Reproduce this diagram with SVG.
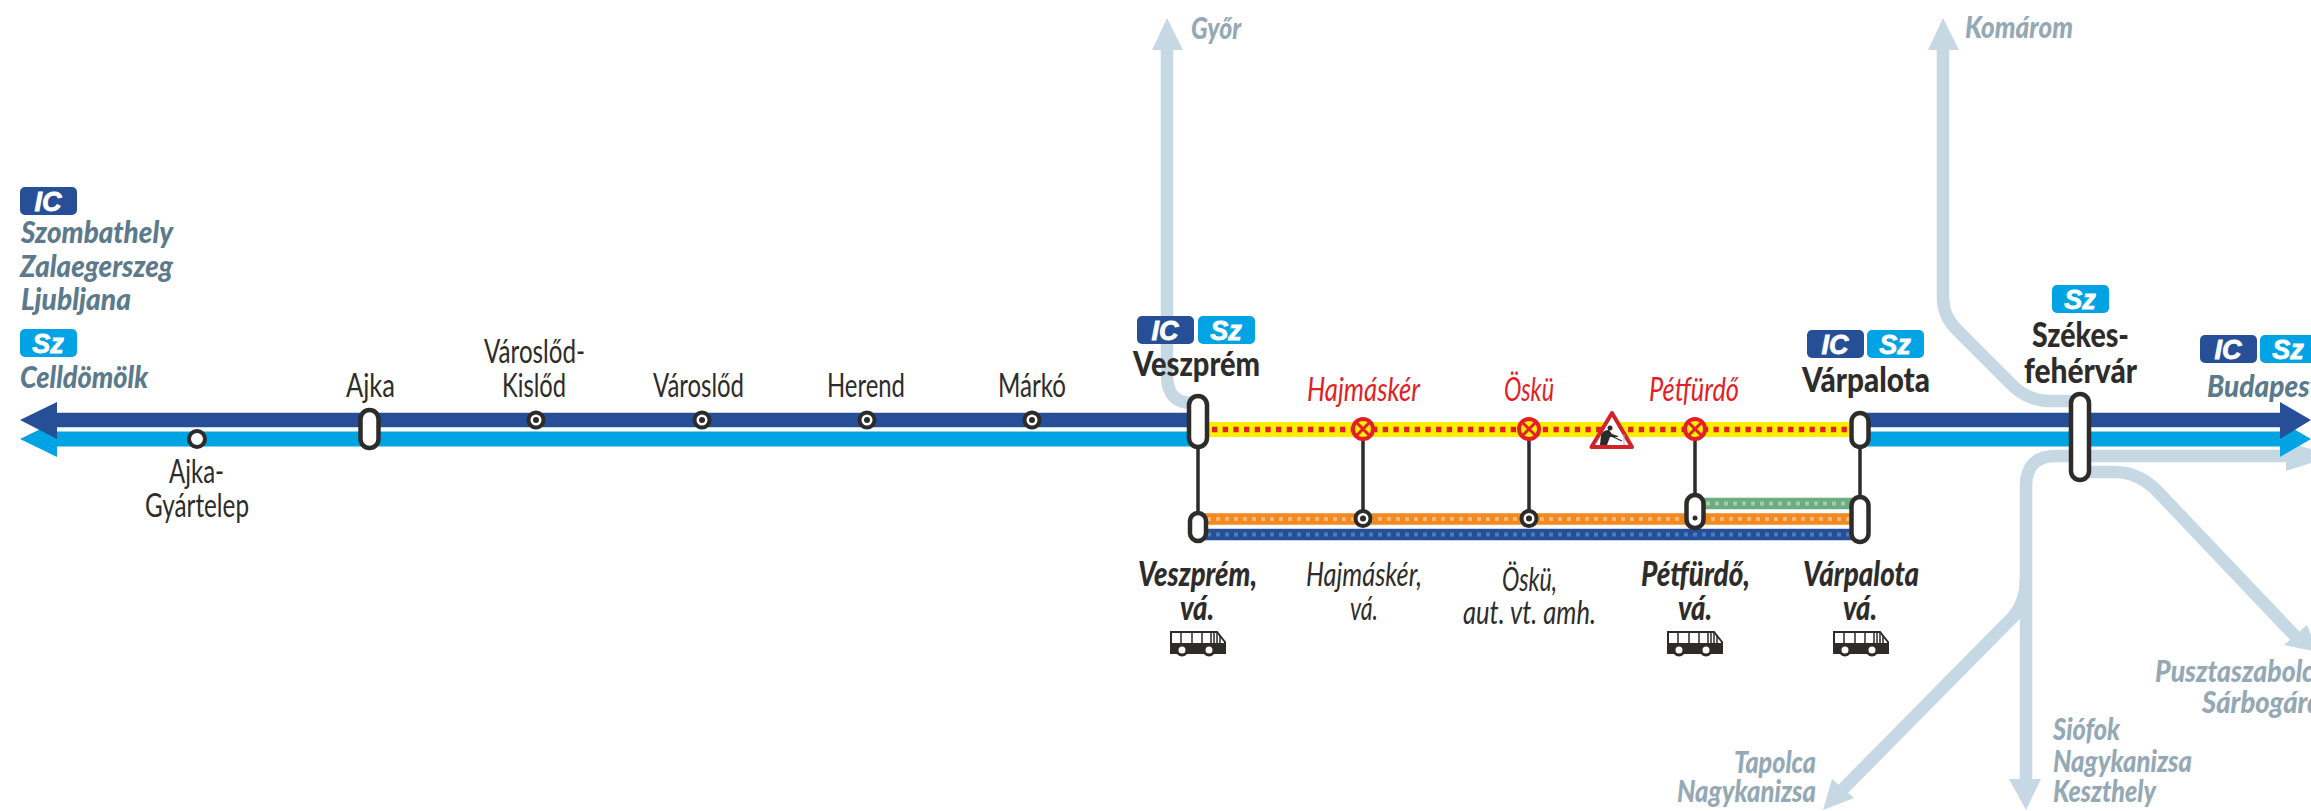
<svg xmlns="http://www.w3.org/2000/svg" width="2311" height="811" viewBox="0 0 2311 811">
<style>
text{font-family:Lato,"Open Sans","Liberation Sans",sans-serif;font-size:33px;fill:#2d2c2b}
.b{font-weight:900;font-size:35px}
.i{font-style:italic}
.r{fill:#e31e24;font-style:italic}
.d{fill:#5b7a8c;font-weight:900;font-style:italic;font-size:31px}
.g{fill:#94a9b5;font-weight:900;font-style:italic;font-size:30px}
.logo{font-family:"Liberation Sans",sans-serif;font-size:27px;font-weight:700;font-style:italic;fill:#fff;stroke:#fff;stroke-width:.8;text-anchor:middle}
.cap{fill:#fff;stroke:#2d2c2b;stroke-width:4.5}
.stop{fill:#fff;stroke:#2d2c2b;stroke-width:4}
.conn{fill:none;stroke:#2d2c2b;stroke-width:3.5}
.pale{fill:none;stroke:#c6d8e3;stroke-width:12.5}
.paleh{fill:#c6d8e3}
</style>
<defs>
<g id="ic"><rect width="57" height="28" rx="5" fill="#274f97"/><text class="logo" x="28" y="24">IC</text></g>
<g id="sz"><rect width="57" height="28" rx="5" fill="#00a3e3"/><text class="logo" x="28" y="24">Sz</text></g>
<g id="bus">
<path d="M1 1H47L55 11V22H1V1Z" fill="#fff" stroke="#2d2c2b" stroke-width="2"/>
<path d="M0 12H56V22H0Z" fill="#2d2c2b"/>
<path d="M11 1V12M22 1V12M32 1V12M41 1V12M44 1V12M47 1V12M50 4V12" stroke="#2d2c2b" stroke-width="1.5"/>
<circle cx="12" cy="19" r="5" fill="#fff" stroke="#2d2c2b" stroke-width="3"/>
<circle cx="39" cy="19" r="5" fill="#fff" stroke="#2d2c2b" stroke-width="3"/>
</g>
<g id="closed"><circle r="10" fill="#ffed00" stroke="#e31e24" stroke-width="4"/><path d="M-6.5 -6.5L6.5 6.5M6.5 -6.5L-6.5 6.5" stroke="#e31e24" stroke-width="3"/></g>
</defs>

<g id="connectors">
<path class="pale" d="M1167 45V375Q1167 403 1192 403"/>
<path class="paleh" d="M1167 18L1183 50H1152Z"/>
<path class="pale" d="M1943 45V298Q1943 316 1957 330L2010 383Q2027 401 2050 401H2075"/>
<path class="paleh" d="M1943 18L1959 50H1928Z"/>
<path class="pale" d="M2290 456H2056Q2026 456 2026 486V785"/>
<path class="paleh" d="M2311 449L2286 442V471L2311 463Z"/>
<path class="paleh" d="M2026 810L2009 779H2041Z"/>
<path class="pale" d="M2026 580Q2026 600 2014 616L1843 789"/>
<path class="paleh" d="M1823 810L1832 779L1854 798Z"/>
<path class="pale" d="M2085 472H2115Q2140 472 2160 494L2296 637"/>
<path class="paleh" d="M2318 652L2284 645L2307 625Z"/>

<path d="M57 439H1198M1860 439H2280" stroke="#00a3e3" stroke-width="15" fill="none"/>
<path d="M20 439L57 421V457Z" fill="#00a3e3"/>
<path d="M2311 439L2280 421V457Z" fill="#00a3e3"/>
<path d="M57 420H1198M1860 420H2280" stroke="#274f97" stroke-width="14.500" fill="none"/>
<path d="M20 420L57 402V439Z" fill="#274f97"/>
<path d="M2311 420L2280 402V439Z" fill="#274f97"/>

<path d="M1198 429.500H1860" stroke="#ffed00" stroke-width="15" fill="none"/>
<path d="M1212 429.500H1860" stroke="#e31e24" stroke-width="5.500" stroke-dasharray="5.3 5.37" fill="none"/>

<path d="M1198 519H1860" stroke="#f18a21" stroke-width="11.500" fill="none"/>
<path d="M1207 519H1860" stroke="#f7b777" stroke-width="4" stroke-dasharray="4 5" fill="none"/>
<path d="M1198 534.500H1860" stroke="#274f97" stroke-width="11.500" fill="none"/>
<path d="M1207 534.500H1860" stroke="#4a7cc0" stroke-width="4" stroke-dasharray="4 5" fill="none"/>
<path d="M1695 503.500H1860" stroke="#6bad80" stroke-width="11.500" fill="none"/>
<path d="M1706 503.500H1860" stroke="#a5ccb1" stroke-width="4" stroke-dasharray="4 5" fill="none"/>

<path class="conn" d="M1198 447V512M1363 437V512M1529 437V512M1695 437V494M1860 447V496"/>
</g>

<g id="n-szombathely"><use href="#ic" x="20" y="187"/>
<text class="d" x="21" y="243" textLength="152" lengthAdjust="spacingAndGlyphs">Szombathely</text>
<text class="d" x="20" y="277" textLength="153" lengthAdjust="spacingAndGlyphs">Zalaegerszeg</text>
<text class="d" x="21" y="310" textLength="110" lengthAdjust="spacingAndGlyphs">Ljubljana</text></g>
<g id="n-celldomolk"><use href="#sz" x="20" y="329"/>
<text class="d" x="20" y="388" textLength="128" lengthAdjust="spacingAndGlyphs">Celldömölk</text></g>

<g id="n-ajka-gyartelep"><circle class="stop" cx="197" cy="439" r="8"/>
<text x="169" y="483" textLength="55" lengthAdjust="spacingAndGlyphs">Ajka-</text>
<text x="145" y="517" textLength="104" lengthAdjust="spacingAndGlyphs">Gyártelep</text></g>
<g id="n-ajka"><rect class="cap" x="360.500" y="410" width="18" height="38" rx="9"/>
<text x="346" y="397" textLength="49" lengthAdjust="spacingAndGlyphs">Ajka</text></g>
<g id="n-varoslod-kislod"><circle class="stop" cx="536" cy="420" r="7.500"/><circle cx="536" cy="420" r="3" fill="#2d2c2b"/>
<text x="484" y="363" textLength="101" lengthAdjust="spacingAndGlyphs">Városlőd-</text>
<text x="502" y="397" textLength="64" lengthAdjust="spacingAndGlyphs">Kislőd</text></g>
<g id="n-varoslod"><circle class="stop" cx="702" cy="420" r="7.500"/><circle cx="702" cy="420" r="3" fill="#2d2c2b"/>
<text x="653" y="397" textLength="91" lengthAdjust="spacingAndGlyphs">Városlőd</text></g>
<g id="n-herend"><circle class="stop" cx="867" cy="420" r="7.500"/><circle cx="867" cy="420" r="3" fill="#2d2c2b"/>
<text x="827" y="397" textLength="78" lengthAdjust="spacingAndGlyphs">Herend</text></g>
<g id="n-marko"><circle class="stop" cx="1032" cy="420" r="7.500"/><circle cx="1032" cy="420" r="3" fill="#2d2c2b"/>
<text x="998" y="397" textLength="68" lengthAdjust="spacingAndGlyphs">Márkó</text></g>

<g id="n-veszprem"><use href="#ic" x="1137" y="316"/><use href="#sz" x="1198" y="316"/>
<rect class="cap" x="1189" y="396" width="18" height="51" rx="9"/>
<text class="b" x="1133" y="376" textLength="127" lengthAdjust="spacingAndGlyphs">Veszprém</text></g>
<g id="n-veszprem-va"><rect class="cap" x="1190" y="513" width="16" height="28" rx="8"/>
<text class="b i" x="1138" y="586" textLength="119" lengthAdjust="spacingAndGlyphs">Veszprém,</text>
<text class="b i" x="1180" y="620" textLength="34" lengthAdjust="spacingAndGlyphs">vá.</text>
<use href="#bus" x="1170" y="631"/></g>

<g id="n-hajmasker"><use href="#closed" x="1363" y="429"/>
<text class="r" x="1307" y="401" textLength="113" lengthAdjust="spacingAndGlyphs">Hajmáskér</text></g>
<g id="n-hajmasker-va"><circle class="stop" cx="1363" cy="518.500" r="7.500"/><circle cx="1363" cy="518.500" r="3" fill="#2d2c2b"/>
<text class="i" x="1306" y="586" textLength="116" lengthAdjust="spacingAndGlyphs">Hajmáskér,</text>
<text class="i" x="1350" y="620" textLength="28" lengthAdjust="spacingAndGlyphs">vá.</text></g>

<g id="n-osku"><use href="#closed" x="1529" y="429"/>
<text class="r" x="1504" y="401" textLength="50" lengthAdjust="spacingAndGlyphs">Öskü</text></g>
<g id="n-osku-amh"><circle class="stop" cx="1529" cy="518.500" r="7.500"/><circle cx="1529" cy="518.500" r="3" fill="#2d2c2b"/>
<text class="i" x="1502" y="591" textLength="55" lengthAdjust="spacingAndGlyphs">Öskü,</text>
<text class="i" x="1463" y="624" textLength="133" lengthAdjust="spacingAndGlyphs">aut. vt. amh.</text></g>

<g id="n-works">
<path d="M1612 413L1632 447H1591.500Z" fill="#fff" stroke="#d2232a" stroke-width="4" stroke-linejoin="round"/>
<circle cx="1610" cy="428" r="2.500" fill="#2d2c2b"/>
<path d="M1600 445L1601 435Q1603 430 1609 430L1612 434L1618 436V437L1610 437L1607 445Z" fill="#2d2c2b"/>
<path d="M1611 436L1622 441" stroke="#2d2c2b" stroke-width="1.200" fill="none"/>
<path d="M1624 434V445" stroke="#aaa" stroke-width="1"/>
</g>

<g id="n-petfurdo"><use href="#closed" x="1695" y="429"/>
<text class="r" x="1649" y="401" textLength="90" lengthAdjust="spacingAndGlyphs">Pétfürdő</text></g>
<g id="n-petfurdo-va"><rect class="cap" x="1686.500" y="495" width="17" height="33" rx="8.500"/><circle cx="1695" cy="518" r="2.500" fill="#2d2c2b"/>
<text class="b i" x="1641" y="586" textLength="109" lengthAdjust="spacingAndGlyphs">Pétfürdő,</text>
<text class="b i" x="1678" y="620" textLength="34" lengthAdjust="spacingAndGlyphs">vá.</text>
<use href="#bus" x="1667" y="631"/></g>

<g id="n-varpalota"><use href="#ic" x="1807" y="330"/><use href="#sz" x="1867" y="330"/>
<rect class="cap" x="1851.500" y="413" width="17" height="34" rx="8.500"/>
<text class="b" x="1802" y="392" textLength="128" lengthAdjust="spacingAndGlyphs">Várpalota</text></g>
<g id="n-varpalota-va"><rect class="cap" x="1851.500" y="497" width="17" height="45" rx="8.500"/>
<text class="b i" x="1803" y="586" textLength="116" lengthAdjust="spacingAndGlyphs">Várpalota</text>
<text class="b i" x="1843" y="620" textLength="34" lengthAdjust="spacingAndGlyphs">vá.</text>
<use href="#bus" x="1833" y="631"/></g>

<g id="n-szekesfehervar"><use href="#sz" x="2052" y="285"/>
<rect class="cap" x="2071" y="394" width="18" height="86" rx="9"/>
<text class="b" x="2032" y="347" textLength="97" lengthAdjust="spacingAndGlyphs">Székes-</text>
<text class="b" x="2024" y="383" textLength="113" lengthAdjust="spacingAndGlyphs">fehérvár</text></g>

<g id="n-budapest"><use href="#ic" x="2200" y="335"/><use href="#sz" x="2260" y="335"/>
<text class="d" x="2207" y="397" textLength="113" lengthAdjust="spacingAndGlyphs">Budapest</text></g>

<g id="n-gyor"><text class="g" x="1191" y="39" textLength="50" lengthAdjust="spacingAndGlyphs">Győr</text></g>
<g id="n-komarom"><text class="g" x="1965" y="38" textLength="108" lengthAdjust="spacingAndGlyphs">Komárom</text></g>
<g id="n-tapolca"><text class="g" x="1734" y="773" textLength="82" lengthAdjust="spacingAndGlyphs">Tapolca</text>
<text class="g" x="1677" y="802" textLength="139" lengthAdjust="spacingAndGlyphs">Nagykanizsa</text></g>
<g id="n-siofok"><text class="g" x="2053" y="740" textLength="67" lengthAdjust="spacingAndGlyphs">Siófok</text>
<text class="g" x="2053" y="772" textLength="139" lengthAdjust="spacingAndGlyphs">Nagykanizsa</text>
<text class="g" x="2053" y="802" textLength="103" lengthAdjust="spacingAndGlyphs">Keszthely</text></g>
<g id="n-pusztaszabolcs"><text class="g" x="2155" y="682" textLength="170" lengthAdjust="spacingAndGlyphs">Pusztaszabolcs</text>
<text class="g" x="2202" y="713" textLength="120" lengthAdjust="spacingAndGlyphs">Sárbogárd</text></g>
</svg>
